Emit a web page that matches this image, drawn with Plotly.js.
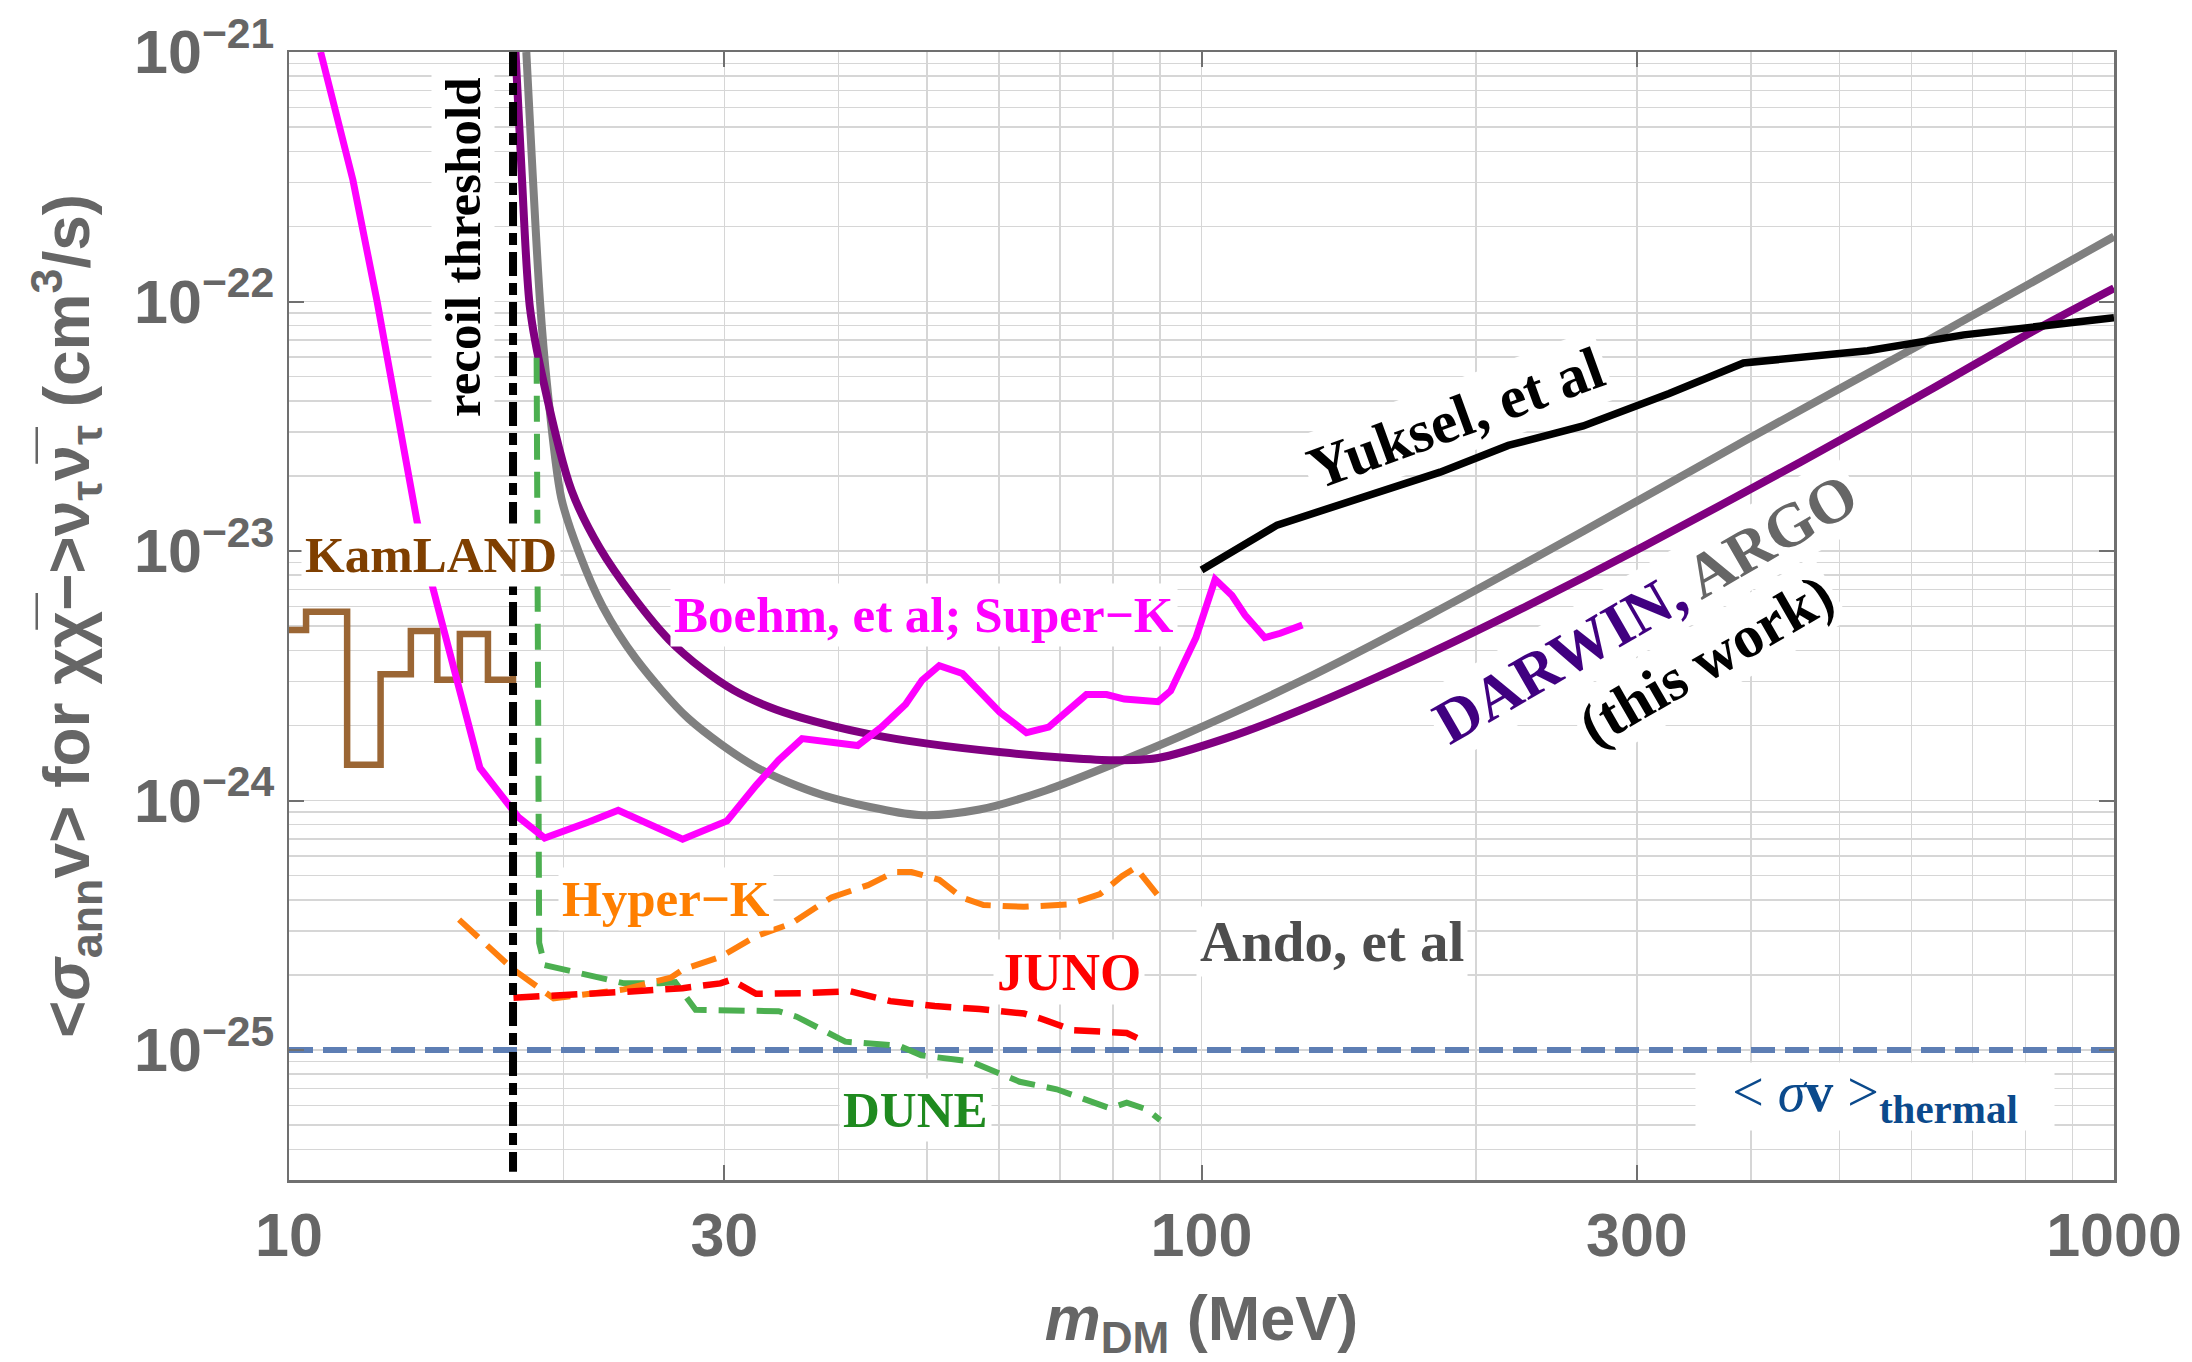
<!DOCTYPE html>
<html><head><meta charset="utf-8">
<script src="https://cdn.plot.ly/plotly-3.0.1.min.js"></script>
<style>html,body{margin:0;padding:0;background:#fff}</style>
</head><body><div id="chart" style="width:2192px;height:1362px"></div>
<script>
// ---------- data (m_DM in MeV, <sigma v> in cm^3/s) ----------
const xTickVals = [10, 30, 100, 300, 1000];
const xTickText = ['10', '30', '100', '300', '1000'];
const yTickVals = [1e-25, 1e-24, 1e-23, 1e-22, 1e-21];
const yTickText = ['10<sup>\u221225</sup>', '10<sup>\u221224</sup>', '10<sup>\u221223</sup>', '10<sup>\u221222</sup>', '10<sup>\u221221</sup>'];

const thermalMass = [10, 1000];
const thermalSigma = [1e-25, 1e-25];

const recoilMass = [17.6, 17.6];
const recoilSigma = [1e-21, 3.25e-26];

const kamlandMass  = [10, 10.44, 11.58, 12.6, 13.6, 14.54, 15.39, 16.52, 17.6];
const kamlandSigma = [4.82e-24, 5.71e-24, 1.39e-24, 3.21e-24, 4.78e-24, 3.05e-24, 4.65e-24, 3.05e-24, 3.35e-24];

const boehmMass  = [10.83, 11.75, 12.49, 13.81, 14.31, 16.19, 17.83, 19.06, 21.3, 22.95, 27.0, 30.2, 32.5, 34.4, 36.5, 42.0, 44.6, 47.4, 49.4, 51.6, 54.7, 57.1, 60.1, 64.3, 68.0, 74.8, 78.7, 82.3, 89.6, 92.5, 98.6, 103.5, 108, 111.6, 117.3, 122, 129];
const boehmSigma = [1e-21, 3.07e-22, 1.0e-22, 1.32e-23, 7.59e-24, 1.35e-24, 8.59e-25, 7.07e-25, 8.2e-25, 9.14e-25, 7.0e-25, 8.28e-25, 1.15e-24, 1.45e-24, 1.77e-24, 1.66e-24, 1.97e-24, 2.43e-24, 3.03e-24, 3.47e-24, 3.23e-24, 2.72e-24, 2.26e-24, 1.87e-24, 1.97e-24, 2.66e-24, 2.66e-24, 2.55e-24, 2.49e-24, 2.75e-24, 4.49e-24, 7.7e-24, 6.63e-24, 5.54e-24, 4.5e-24, 4.68e-24, 5.05e-24];

const argoMass  = [18.2, 18.84, 19.17, 19.88, 20.8, 22.06, 24.0, 27.4, 32.5, 38.5, 49.0, 57.1, 67.6, 80.1, 94.8, 128.2, 177.2, 262, 392.6, 608, 1000];
const argoSigma = [1e-21, 1e-22, 4.71e-23, 1.63e-23, 9.8e-24, 6.0e-24, 3.7e-24, 2.13e-24, 1.36e-24, 1.05e-24, 8.75e-25, 9.2e-25, 1.1e-24, 1.4e-24, 1.81e-24, 3.0e-24, 5.51e-24, 1.2e-23, 2.75e-23, 6.6e-23, 1.82e-22];

const darwinMass  = [17.71, 17.99, 18.37, 19.0, 20.4, 21.9, 23.88, 26.1, 28.4, 30.7, 33.6, 36.4, 43.1, 50.1, 60.4, 71.5, 80.1, 89.6, 106.1, 128.2, 177.2, 224, 306, 453, 634, 815, 1000];
const darwinSigma = [1e-21, 3.25e-22, 9.4e-23, 4.8e-23, 1.75e-23, 1.03e-23, 6.5e-24, 4.4e-24, 3.36e-24, 2.77e-24, 2.37e-24, 2.15e-24, 1.85e-24, 1.69e-24, 1.56e-24, 1.48e-24, 1.45e-24, 1.48e-24, 1.77e-24, 2.3e-24, 3.87e-24, 5.86e-24, 1.05e-23, 2.27e-23, 4.5e-23, 7.6e-23, 1.13e-22];

const yukselMass  = [100, 121, 182.6, 216.9, 262, 325.5, 392.6, 537, 684.5, 1000];
const yukselSigma = [8.4e-24, 1.27e-23, 2.07e-23, 2.65e-23, 3.17e-23, 4.28e-23, 5.67e-23, 6.35e-23, 7.35e-23, 8.6e-23];

const duneMass  = [18.68, 18.8, 19.06, 20.87, 23.3, 25.5, 26.5, 27.9, 34.4, 36.0, 40.7, 46.6, 49.3, 55.8, 60.1, 63.2, 69.4, 75.5, 79.4, 82.8, 87.1, 90.1];
const duneSigma = [5.95e-23, 2.69e-25, 2.19e-25, 2.02e-25, 1.85e-25, 1.85e-25, 1.87e-25, 1.45e-25, 1.43e-25, 1.36e-25, 1.08e-25, 1.04e-25, 9.52e-26, 9.0e-26, 8.06e-26, 7.46e-26, 6.96e-26, 6.2e-26, 5.84e-26, 6.15e-26, 5.78e-26, 5.24e-26];

const hyperkMass  = [15.36, 17.62, 19.5, 21.9, 23.3, 26.2, 27.0, 29.7, 32.5, 35.5, 39.3, 43.1, 46.1, 48.1, 51.6, 54.6, 57.7, 63.9, 71.5, 77.4, 81.8, 84.7, 89.6];
const hyperkSigma = [3.33e-25, 2.1e-25, 1.61e-25, 1.69e-25, 1.75e-25, 1.95e-25, 2.1e-25, 2.36e-25, 2.86e-25, 3.21e-25, 4.09e-25, 4.58e-25, 5.17e-25, 5.17e-25, 4.81e-25, 4.09e-25, 3.81e-25, 3.75e-25, 3.83e-25, 4.22e-25, 4.97e-25, 5.39e-25, 4.16e-25];

const junoMass  = [17.62, 19.7, 23.3, 27.0, 29.7, 30.5, 32.5, 36.4, 41.2, 45.6, 51.0, 57.1, 63.9, 66.5, 72.4, 79.4, 82.8, 86.7];
const junoSigma = [1.62e-25, 1.65e-25, 1.71e-25, 1.77e-25, 1.85e-25, 1.91e-25, 1.68e-25, 1.69e-25, 1.72e-25, 1.57e-25, 1.5e-25, 1.46e-25, 1.4e-25, 1.34e-25, 1.2e-25, 1.18e-25, 1.17e-25, 1.08e-25];

// ---------- styling ----------
const SERIF = 'Liberation Serif, Times New Roman, serif';
const SANS = 'Liberation Sans, Arial, sans-serif';
const AXIS_GRAY = '#666666';
const FRAME = '#707070';
const GRID = '#d6d6d6';

function line(x, y, color, width, dash, shape) {
  const ln = {color: color, width: width, dash: dash || 'solid', shape: shape || 'linear'};
  if (shape === 'spline') ln.smoothing = 0.8;
  return {x: x, y: y, type: 'scatter', mode: 'lines', hoverinfo: 'skip', showlegend: false, line: ln};
}

const traces = [
  line(thermalMass, thermalSigma, '#5d7eb4', 6, '24px,10px'),
  line(kamlandMass, kamlandSigma, '#9b6634', 6.5, 'solid', 'hv'),
  line(argoMass, argoSigma, '#808080', 8, 'solid', 'spline'),
  line(darwinMass, darwinSigma, '#800080', 8, 'solid', 'spline'),
  line(yukselMass, yukselSigma, '#000000', 7.5),
  line(duneMass, duneSigma, '#4caf50', 6, '26px,12px'),
  line(hyperkMass, hyperkSigma, '#ff7f0e', 6, '26px,12px'),
  line(junoMass, junoSigma, '#ff0000', 6.5, '26px,12px'),
  line(boehmMass, boehmSigma, '#ff00ff', 7),
  line(recoilMass, recoilSigma, '#000000', 8, '24px,7px,12px,7px')
];

// minor grid values
const xMinor = [];
[10, 100].forEach(function (d) { for (let k = 2; k <= 9; k++) { if (k !== 3) xMinor.push(k * d); } });
const yMinor = [];
[1e-26, 1e-25, 1e-24, 1e-23, 1e-22].forEach(function (d) { for (let k = 2; k <= 9; k++) yMinor.push(k * d); });

function ann(text, x, y, color, size, angle, extra) {
  return Object.assign({text: text, x: x, y: y, xref: 'x', yref: 'y', showarrow: false,
    font: {family: SERIF, size: size, color: color}, textangle: angle || 0,
    bgcolor: '#ffffff', borderpad: 3, xanchor: 'center', yanchor: 'middle'}, extra || {});
}

// label positions are given in log10 axis units
const annotations = [
  ann('<b>recoil threshold</b>', 1.1907, -21.7816, '#000000', 51, -90),
  ann('<b>KamLAND</b>', 1.1551, -23.016, '#7f3f00', 51, 0),
  ann('<b>Boehm, et al; Super\u2212K</b>', 1.6964, -23.2565, '#ff00ff', 51, 0),
  ann('<b>Hyper\u2212K</b>', 1.4132, -24.3948, '#ff7f00', 51, 0),
  ann('<b>JUNO</b>', 1.8546, -24.6874, '#ff0000', 53, 0),
  ann('<b>Ando, et al</b>', 2.1427, -24.5631, '#4d4d4d', 57, 0),
  ann('<b>DUNE</b>', 1.6871, -25.2405, '#1f8a1f', 51, 0),
  ann('&lt; <i>\u03c3</i><b>v</b> &gt;<sub><b><span style="font-size:41px">thermal</span></b></sub>', 2.7381, -25.1864, '#0b4a8c', 56, 0,
      {width: 350, height: 59, borderpad: 4}),
  ann('<b>Yuksel, et al</b>', 2.2791, -22.4686, '#000000', 60, -20),
  ann('<b><span style="color:#400080">DARWIN,</span> <span style="color:#666666">ARGO</span></b>', 2.487, -23.228, '#400080', 62, -30),
  ann('<b>(this work)</b>', 2.553, -23.435, '#000000', 60, -30)
];

const layout = {
  width: 2192, height: 1362,
  margin: {l: 289, r: 78, t: 52, b: 182},
  paper_bgcolor: '#ffffff', plot_bgcolor: '#ffffff',
  showlegend: false,
  xaxis: {
    type: 'log', range: [1, 3], tickmode: 'array', tickvals: xTickVals, ticktext: xTickText,
    ticks: 'inside', ticklen: 15, tickwidth: 2, tickcolor: FRAME,
    showline: true, linecolor: FRAME, linewidth: 2.5, mirror: 'ticks',
    showgrid: true, gridcolor: GRID, gridwidth: 1.5, zeroline: false,
    tickfont: {family: SANS, size: 61, color: AXIS_GRAY, weight: 'bold'},
    minor: {tickmode: 'array', tickvals: xMinor, showgrid: true, gridcolor: GRID, gridwidth: 1.5, ticks: ''},
    title: {text: '<b><i>m</i><sub>DM</sub> (MeV)</b>', font: {family: SANS, size: 63, color: AXIS_GRAY}, standoff: 40}
  },
  yaxis: {
    type: 'log', range: [-25.521, -21], tickmode: 'array', tickvals: yTickVals, ticktext: yTickText,
    ticks: 'inside', ticklen: 15, tickwidth: 2, tickcolor: FRAME,
    showline: true, linecolor: FRAME, linewidth: 2.5, mirror: 'ticks',
    showgrid: true, gridcolor: GRID, gridwidth: 1.5, zeroline: false,
    tickfont: {family: SANS, size: 61, color: AXIS_GRAY, weight: 'bold'},
    minor: {tickmode: 'array', tickvals: yMinor, showgrid: true, gridcolor: GRID, gridwidth: 1.5, ticks: ''},
    title: {text: '<b>&lt;<i>\u03c3</i><sub>ann</sub>v&gt; for \u03c7\u03c7\u0305\u2212&gt;\u03bd<sub>\u03c4</sub>\u03bd\u0305<sub>\u03c4</sub> (cm<sup>3</sup>/s)</b>',
            font: {family: SANS, size: 64, color: AXIS_GRAY}, standoff: 24}
  },
  annotations: annotations
};

Plotly.newPlot('chart', traces, layout, {displayModeBar: false, staticPlot: true});
</script>
</body></html>
